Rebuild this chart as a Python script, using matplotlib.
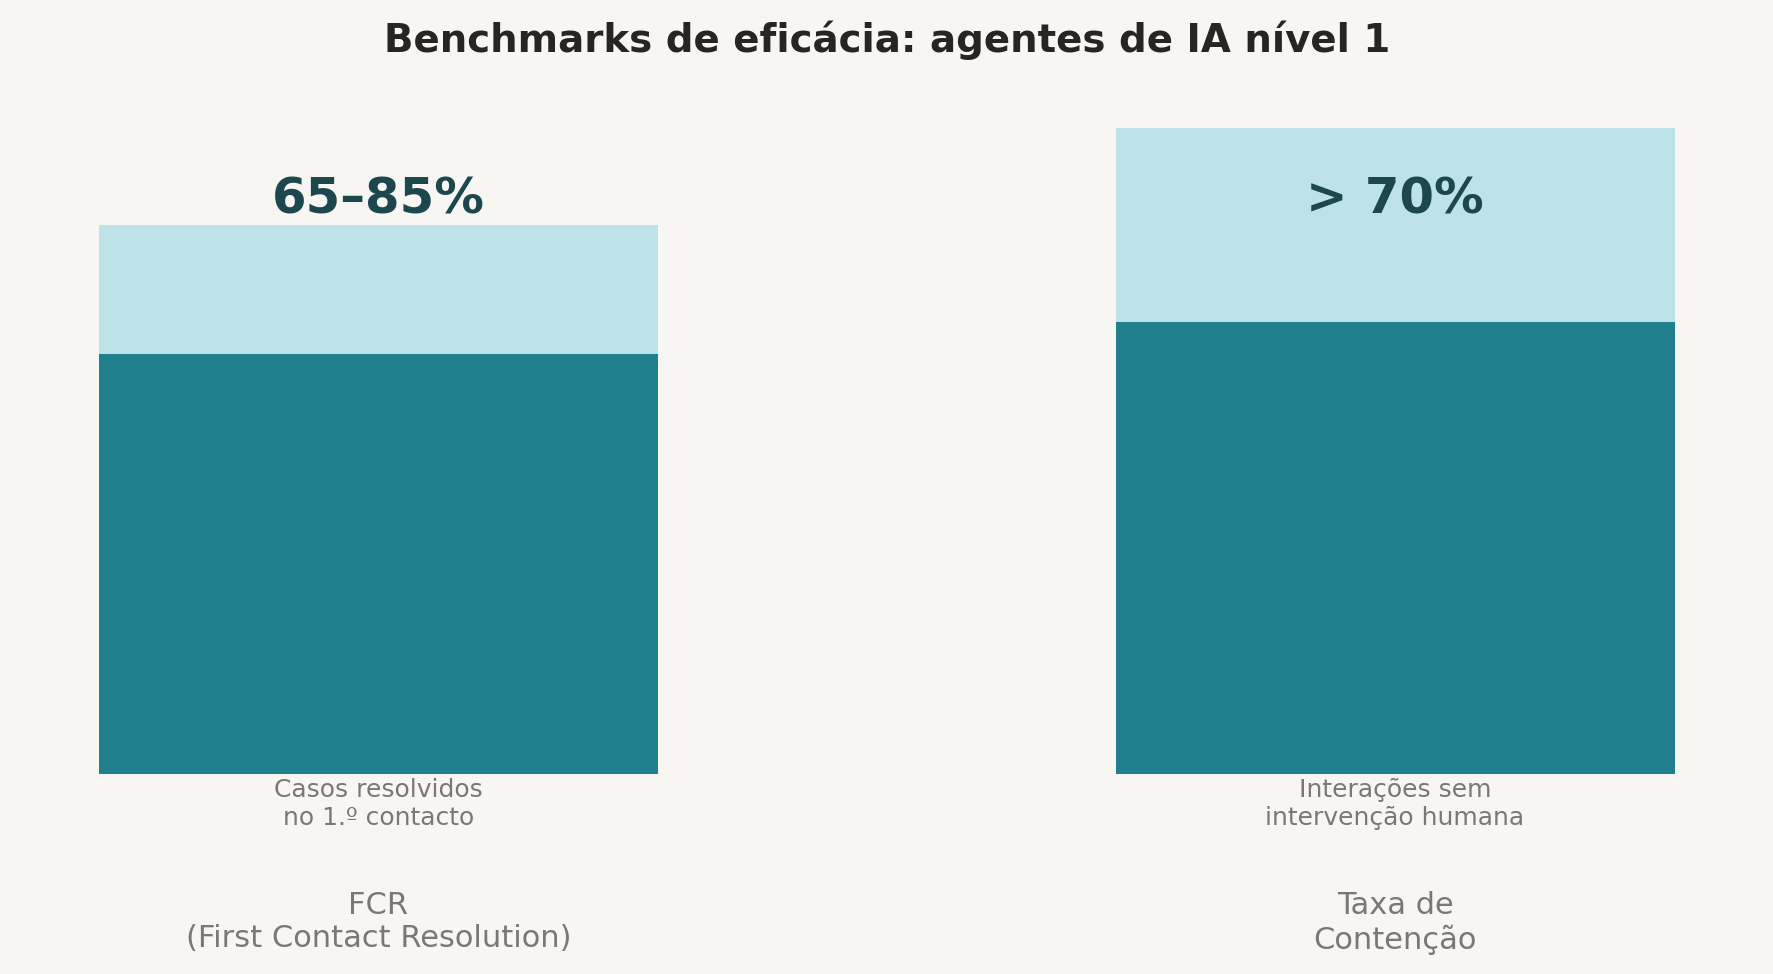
import matplotlib.pyplot as plt

# data
metrics = ["FCR\n(First Contact Resolution)", "Taxa de\nContenção"]
low_values = [65, 70]
high_values = [85, 100]
value_labels = ["65–85%", "> 70%"]
descriptions = ["Casos resolvidos\nno 1.º contacto", "Interações sem\nintervenção humana"]

bg = "#F7F6F3"
dark = "#20808D"
light = "#BDE2E8"

fig = plt.figure(figsize=(17.74, 9.74), dpi=100, facecolor=bg)
ax = fig.add_axes([0, 200 / 974, 1, 646 / 974])
ax.set_facecolor(bg)

x = list(range(len(metrics)))
ax.bar(x, high_values, width=0.55, color=light)
ax.bar(x, low_values, width=0.55, color=dark)

for i in x:
    ax.text(i, 89, value_labels[i], ha="center", va="center",
            fontsize=35.7, fontweight="bold", color="#1B474D")
    ax.annotate(descriptions[i], xy=(i, 0), xytext=(0, -3), textcoords="offset points",
                ha="center", va="top", fontsize=18, color="#7A7872", linespacing=1.2)

ax.set_xlim(-0.3724, 1.3728)
ax.set_ylim(0, 100)
ax.set_xticks(x)
ax.set_xticklabels(metrics, fontsize=22, color="#7A7872")
ax.tick_params(axis="x", length=0, pad=84)
ax.set_yticks([])
for s in ax.spines.values():
    s.set_visible(False)

fig.text(0.5, 1 - 20 / 974, "Benchmarks de eficácia: agentes de IA nível 1",
         ha="center", va="top", fontsize=27.9, fontweight="bold", color="#262521")

fig.savefig("out.png", dpi=100, facecolor=bg)
